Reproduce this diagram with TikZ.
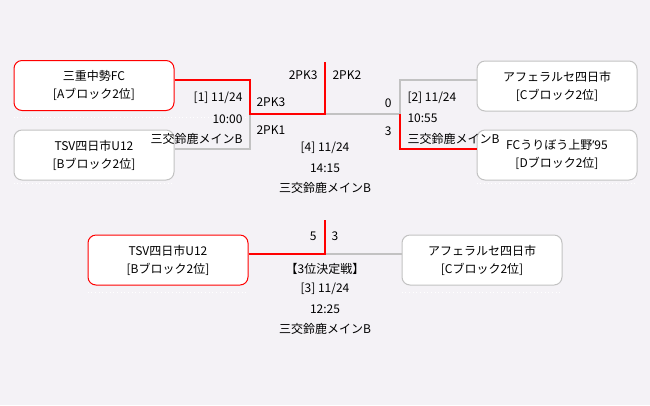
\documentclass[tikz,border=0pt]{standalone}
\usepackage{fontspec}
\setmainfont{Noto Sans CJK JP}
\usetikzlibrary{calc}
\tikzset{every picture/.style={line width=0.75pt}}
\definecolor{bgcol}{RGB}{244,242,246}
\definecolor{winred}{RGB}{255,0,0}
\definecolor{losegray}{RGB}{194,194,194}

\begin{document}
\begin{tikzpicture}[x=0.75pt,y=0.75pt,yscale=-1,xscale=1,
	team/.style={draw=losegray,fill=white,rounded corners=6pt,minimum width=120pt,minimum height=37.5pt,inner sep=0pt,align=center,font=\fontsize{9}{13.5}\selectfont},
	winner/.style={team,draw=winred},
	lbl/.style={inner sep=0pt,font=\fontsize{9}{11}\selectfont},
	won/.style={draw=winred,line width=1.5pt},
	lost/.style={draw=losegray,line width=1.5pt},
	sep/.style={draw=white,dotted,line width=0.75pt}]
	%Shape: Background
	\fill [bgcol] (0,0) rectangle (650,405);

	%Shape: Teams
	\node [winner] (teamA) at (94,85.5) {三重中勢FC\\{}[Aブロック2位]};
	\node [team] (teamB) at (94,155) {TSV四日市U12\\{}[Bブロック2位]};
	\node [team] (teamC) at (557,86) {アフェラルセ四日市\\{}[Cブロック2位]};
	\node [team] (teamD) at (557,155) {FCうりぼう上野{\fontspec{Noto Sans}’}95\\{}[Dブロック2位]};
	\node [winner] (thirdB) at (168,260) {TSV四日市U12\\{}[Bブロック2位]};
	\node [team] (thirdC) at (482,260) {アフェラルセ四日市\\{}[Cブロック2位]};

	%Straight Lines: row separators
	\draw [sep] ($(teamA.south west)+(0,6)$) -- ++(234,0);
	\draw [sep] ($(teamB.south west)+(0,3)$) -- ($(teamB.south east)+(0,3)$);
	\draw [sep] ($(teamD.south west)+(0,3)$) -- ($(teamD.south east)+(0,3)$);
	\draw [sep] ($(thirdB.south west)+(0,7)$) -- ($(thirdB.south east)+(0,7)$);
	\draw [sep] ($(thirdC.south west)+(0,7)$) -- ($(thirdC.south east)+(0,7)$);

	%Straight Lines: bracket
	\coordinate (semiA) at (250,114);
	\coordinate (final) at (325,114);
	\coordinate (semiB) at (400,114);
	\coordinate (finalTop) at (325,62);
	\coordinate (third) at (325,254);
	\coordinate (thirdTop) at (325,220);
	\draw [lost] ($(teamB.east)+(0,-6)$) -| (semiA);
	\draw [lost] (final) -- (semiB) |- ($(teamC.west)+(0,-6)$);
	\draw [won] ($(teamA.east)+(0,-6)$) -| (semiA) -- (final) -- (finalTop);
	\draw [won] (semiB) |- ($(teamD.west)+(0,-6)$);
	\draw [lost] (third) -- ($(thirdC.west)+(0,-6)$);
	\draw [won] ($(thirdB.east)+(0,-6)$) -- (third) -- (thirdTop);

	% Text Node
	\node [lbl,anchor=east] (pkA) at (318,75) {2PK3};
	\node [lbl,anchor=west] (pkB) at (332,75) {2PK2};
	% Text Node
	\node [lbl,anchor=east] (m1date) at (243,98) {[1] 11/24};
	\node [lbl,anchor=east] (m1time) at (243,119) {10:00};
	\node [lbl,anchor=east] (m1site) at (243,139) {三交鈴鹿メインB};
	\node [lbl,anchor=west] (m1a) at (256,102) {2PK3};
	\node [lbl,anchor=west] (m1b) at (256,130) {2PK1};
	% Text Node
	\node [lbl] (m4date) at (325,148) {[4] 11/24};
	\node [lbl] (m4time) at (325,168) {14:15};
	\node [lbl] (m4site) at (325,188) {三交鈴鹿メインB};
	% Text Node
	\node [lbl,anchor=east] (m2a) at (392,103) {0};
	\node [lbl,anchor=east] (m2b) at (392,131) {3};
	\node [lbl,anchor=west] (m2date) at (407,98) {[2] 11/24};
	\node [lbl,anchor=west] (m2time) at (407,118) {10:55};
	\node [lbl,anchor=west] (m2site) at (407,139) {三交鈴鹿メインB};
	% Text Node
	\node [lbl,anchor=east] (m3a) at (317,236) {5};
	\node [lbl,anchor=west] (m3b) at (331,236) {3};
	\node [lbl] (m3title) at (325,269) {【3位決定戦】};
	\node [lbl] (m3date) at (325,289) {[3] 11/24};
	\node [lbl] (m3time) at (325,309) {12:25};
	\node [lbl] (m3site) at (325,329) {三交鈴鹿メインB};

\end{tikzpicture}
\end{document}
